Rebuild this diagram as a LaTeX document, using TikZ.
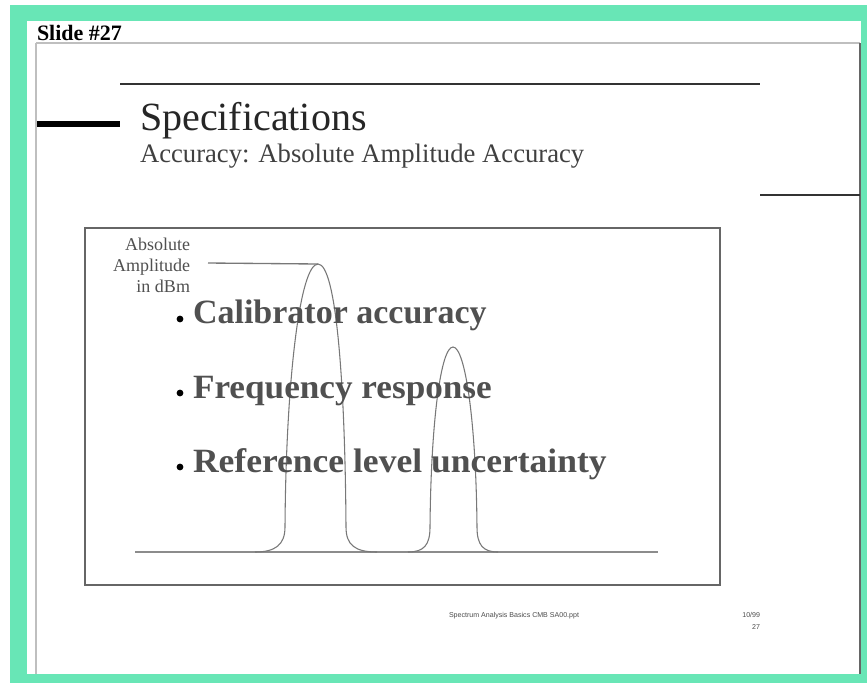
\documentclass[tikz,border=0pt]{standalone}
\usepackage{fontspec}
\setmainfont{Liberation Serif}
\setsansfont{Liberation Sans}
\definecolor{mint}{RGB}{104,230,182}
\definecolor{txtgray}{RGB}{80,80,80}
\definecolor{linegray}{RGB}{120,120,120}
\begin{document}
\begin{tikzpicture}[x=0.75pt,y=-0.75pt,
  txt/.style={inner sep=0pt, outer sep=0pt},
  bul/.style={txt, anchor=base west, text=txtgray, font=\fontsize{25.5}{28}\selectfont\bfseries},
  peak/.style={draw=linegray, line width=0.8pt}]
\useasboundingbox (0,0) rectangle (867,683);
\fill[white] (0,0) rectangle (867,683);
\fill[mint] (10,5) rectangle (867,683);
\fill[white] (27,21) rectangle (861,674);
% slide outline
\draw[black!25, line width=1.2pt] (36,43) -- (860,43);
\draw[black!25, line width=1.2pt] (36,43) -- (36,674);
\draw[black!60, line width=1.6pt] (860,43) -- (860,674);
\node[txt, anchor=base west, font=\fontsize{16.5}{18}\selectfont\bfseries] (slide) at (37,40) {Slide \#27};
% title rules
\draw[black!80, line width=2.2pt] (120,84) -- (760,84);
\draw[black, line width=3.8pt] (37,124) -- (120,124);
\draw[black!80, line width=2.2pt] (760,195) -- (860,195);
\node[txt, anchor=base west, text=black!85, font=\fontsize{30}{32}\selectfont] (title) at (140,130) {Specifications};
\node[txt, anchor=base west, text=black!75, font=\fontsize{20}{22}\selectfont] (sub) at (140,162) {Accuracy: Absolute Amplitude Accuracy};
% box
\draw[black!60, line width=1.1pt] (85,228) rectangle (720,585);
\node[txt, anchor=base east, text=txtgray, font=\fontsize{13.5}{15.75}\selectfont] (l1) at (190,250) {Absolute};
\node[txt, anchor=base east, text=txtgray, font=\fontsize{13.5}{15.75}\selectfont] (l2) at (190,271) {Amplitude};
\node[txt, anchor=base east, text=txtgray, font=\fontsize{13.5}{15.75}\selectfont] (l3) at (190,292) {in dBm};
\coordinate (ls) at (208,263);
\coordinate (pk1) at (318,264);
\draw[linegray, line width=1pt] (ls) -- (pk1);
% baseline
\draw[black!45, line width=1pt] (135,552) -- (658,552);
% big peak
\draw[peak] (255,552) .. controls (275,552) and (285,545) .. (285,527)
  .. controls (286,380) and (300,264) .. (pk1)
  .. controls (336,264) and (345,380) .. (346,527)
  .. controls (346,545) and (355,552) .. (377,552);
% small peak
\draw[peak] (408,552) .. controls (424,552) and (430,545) .. (430,527)
  .. controls (431,420) and (441,347) .. (453,347)
  .. controls (465,347) and (476,420) .. (477,527)
  .. controls (477,545) and (483,552) .. (498,552);
% bullets
\fill (180,319) circle (3.4);
\node[bul] (b1) at (193,323) {Calibrator accuracy};
\fill (180,393) circle (3.4);
\node[bul, xscale=1.035] (b2) at (193,398) {Frequency response};
\fill (180,467) circle (3.4);
\node[bul, xscale=1.045] (b3) at (193,472) {Reference level uncertainty};
% footer
\node[txt, anchor=base west, text=black!70, font=\sffamily\fontsize{5.3}{6}\selectfont] (foot) at (449,617) {Spectrum Analysis Basics CMB SA00.ppt};
\node[txt, anchor=base east, text=black!70, font=\sffamily\fontsize{5.3}{6}\selectfont] (date) at (760,617) {10/99};
\node[txt, anchor=base east, text=black!70, font=\sffamily\fontsize{5.3}{6}\selectfont] (pg) at (760,629) {27};
\end{tikzpicture}
\end{document}
